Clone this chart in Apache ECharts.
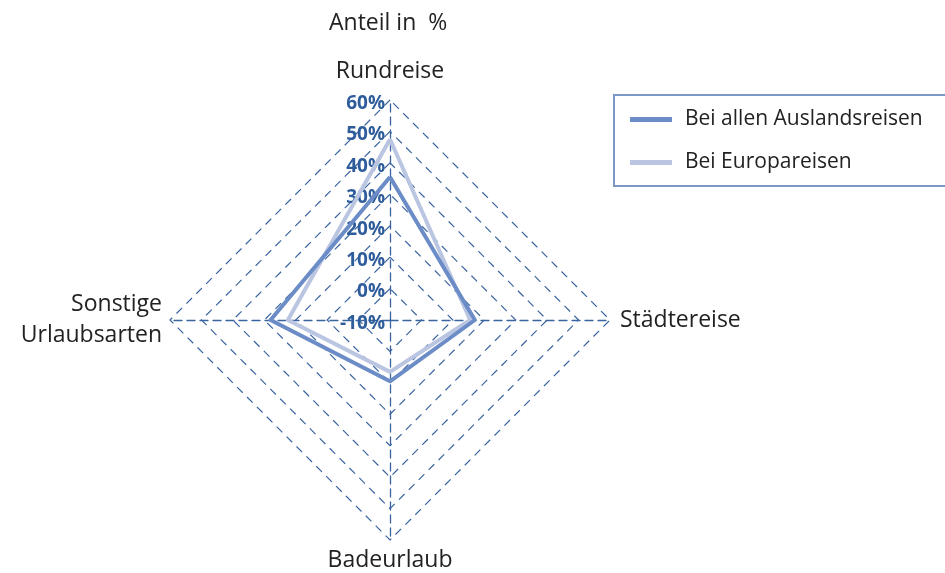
<!DOCTYPE html>
<html>
<head>
<meta charset="utf-8">
<script src="https://cdn.jsdelivr.net/npm/echarts@6/dist/echarts.min.js"></script>
<style>
  html, body { margin: 0; padding: 0; background: #fff; }
  #myRadar { width: 945px; height: 573px; }
</style>
</head>
<body>
<div id="myRadar"></div>
<script>
// Reihenfolge gegen den Uhrzeigersinn ab oben
var categories = ["Rundreise", "Sonstige\nUrlaubsarten", "Badeurlaub", "Städtereise"];
var nameGaps = [13, 8, 5, 10];
var seriesNames = ["Bei allen Auslandsreisen", "Bei Europareisen"];
var auslandValues = [35.5, 28, 9.5, 17];
var europaValues = [47.5, 22.5, 6.5, 15.5];
var axisMin = -10;
var axisMax = 60;

var chart = echarts.init(document.getElementById("myRadar"));
var fontFamily = "'Open Sans', 'Noto Sans', sans-serif";

chart.setOption({
  animation: false,
  textStyle: { fontFamily: fontFamily },
  title: {
    text: "Anteil in  %",
    left: 324,
    top: 7,
    textStyle: { fontSize: 23, fontWeight: "normal", color: "#222", fontFamily: fontFamily }
  },
  legend: {
    orient: "vertical",
    left: 614,
    top: 95,
    width: 400,
    padding: [14, 90, 13, 16],
    itemGap: 22,
    itemWidth: 42,
    itemHeight: 5,
    icon: "rect",
    borderColor: "#7d97c9",
    borderWidth: 2,
    textStyle: { fontSize: 21, color: "#222", padding: [0, 0, 0, 8] },
    data: seriesNames
  },
  radar: {
    center: [390, 320],
    radius: 220,
    shape: "polygon",
    splitNumber: 7,
    startAngle: 90,
    axisName: { color: "#222", fontSize: 23, lineHeight: 31 },
    indicator: categories.map(function (c, i) {
      var ind = { name: c, min: axisMin, max: axisMax, nameGap: nameGaps[i] };
      if (i === 0) {
        ind.axisLabel = {
          show: true,
          showMinLabel: true,
          color: "#2f5d9b",
          fontSize: 19,
          fontWeight: "bold",
          margin: 5,
          verticalAlign: "top",
          padding: [-6, 0, 0, 0],
          formatter: "{value}%"
        };
      }
      return ind;
    }),
    axisLabel: { show: false },
    axisLine: { lineStyle: { color: "#3a64a0", type: [8, 5], width: 1.3 } },
    splitLine: { lineStyle: { color: "#3a64a0", type: [8, 6], width: 1.2 } },
    splitArea: { show: false }
  },
  series: [
    {
      type: "radar",
      symbol: "none",
      data: [
        {
          name: seriesNames[1],
          value: europaValues,
          lineStyle: { color: "#bac5e2", width: 4 },
          itemStyle: { color: "#bac5e2" }
        },
        {
          name: seriesNames[0],
          value: auslandValues,
          lineStyle: { color: "#6b8cc6", width: 4 },
          itemStyle: { color: "#6b8cc6" }
        }
      ]
    }
  ]
});
</script>
</body>
</html>
